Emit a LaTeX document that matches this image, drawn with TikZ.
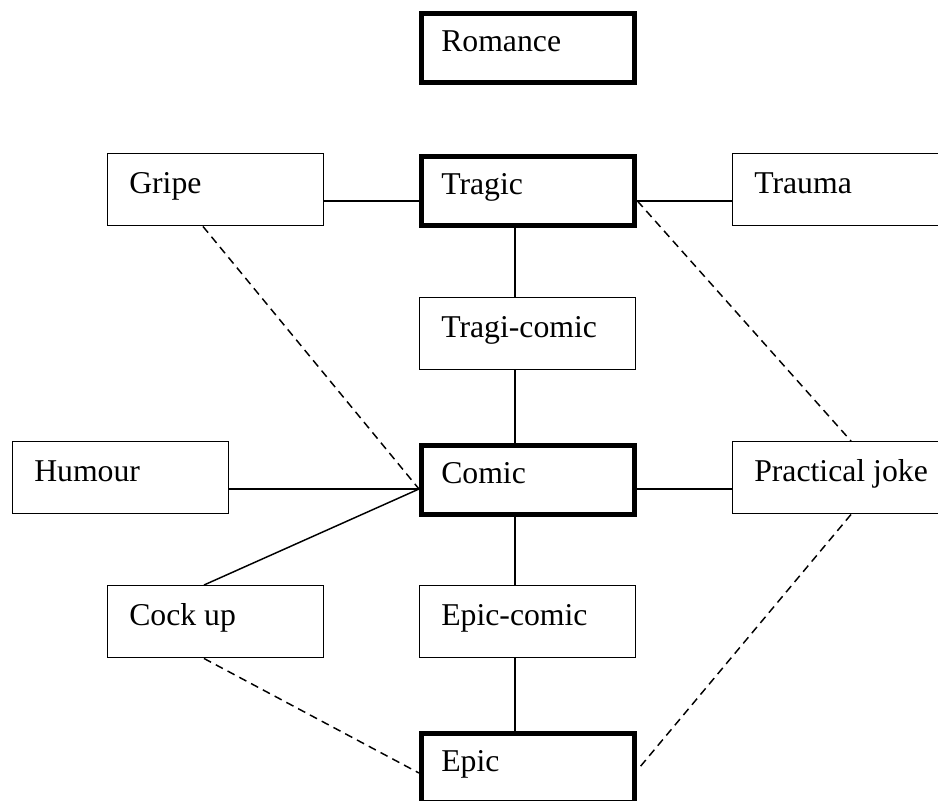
\documentclass[tikz,border=0pt]{standalone}
\usepackage{fontspec}
\setmainfont{Liberation Serif}
\begin{document}
\begin{tikzpicture}[x=0.75pt,y=-0.75pt,
  box/.style={draw, line width=1.1pt, inner sep=0pt, minimum width=162pt, minimum height=54pt, anchor=north west},
  thickbox/.style={box, line width=3.8pt, minimum width=160pt, minimum height=52pt},
  lbl/.style={anchor=base west, inner sep=0pt, font=\fontsize{23.8}{28}\selectfont},
  conn/.style={line width=1.1pt},
  dconn/.style={line width=1.1pt, dash pattern=on 6pt off 4pt}]
\useasboundingbox (0,0) rectangle (938,800);
% boxes
\node[thickbox] (romance) at (419,11) {};
\node[box] (gripe) at (107,153) {};
\node[thickbox] (tragic) at (419,154) {};
\node[box] (trauma) at (732,153) {};
\node[box] (tragicomic) at (419,297) {};
\node[box] (humour) at (12,441) {};
\node[thickbox] (comic) at (419,443) {};
\node[box] (practical) at (732,441) {};
\node[box] (cockup) at (107,585) {};
\node[box] (epiccomic) at (419,585) {};
\node[thickbox] (epic) at (419,731) {};
% labels
\node[lbl] at ([xshift=16.5pt,yshift=-30pt]romance.north west) {Romance};
\node[lbl] at ([xshift=16.5pt,yshift=-30pt]gripe.north west) {Gripe};
\node[lbl] at ([xshift=16.5pt,yshift=-30pt]tragic.north west) {Tragic};
\node[lbl] at ([xshift=16.5pt,yshift=-30pt]trauma.north west) {Trauma};
\node[lbl] at ([xshift=16.5pt,yshift=-30pt]tragicomic.north west) {Tragi-comic};
\node[lbl] at ([xshift=16.5pt,yshift=-30pt]humour.north west) {Humour};
\node[lbl] at ([xshift=16.5pt,yshift=-30pt]comic.north west) {Comic};
\node[lbl] at ([xshift=16.5pt,yshift=-30pt]practical.north west) {Practical joke};
\node[lbl] at ([xshift=16.5pt,yshift=-30pt]cockup.north west) {Cock up};
\node[lbl] at ([xshift=16.5pt,yshift=-30pt]epiccomic.north west) {Epic-comic};
\node[lbl] at ([xshift=16.5pt,yshift=-30pt]epic.north west) {Epic};
% solid connectors
\draw[conn] (gripe.east |- {(0,201)}) -- (tragic.west |- {(0,201)});
\draw[conn] (tragic.east |- {(0,201)}) -- (trauma.west |- {(0,201)});
\draw[conn] (tragic.south -| {(515,0)}) -- (tragicomic.north -| {(515,0)});
\draw[conn] (tragicomic.south -| {(515,0)}) -- (comic.north -| {(515,0)});
\draw[conn] (humour.east |- {(0,489)}) -- (comic.west |- {(0,489)});
\draw[conn] (comic.east |- {(0,489)}) -- (practical.west |- {(0,489)});
\draw[conn] (cockup.north -| {(204,0)}) -- (comic.west |- {(0,489)});
\draw[conn] (comic.south -| {(515,0)}) -- (epiccomic.north -| {(515,0)});
\draw[conn] (epiccomic.south -| {(515,0)}) -- (epic.north -| {(515,0)});
% dashed connectors
\draw[dconn] (gripe.south -| {(203,0)}) -- (comic.west |- {(0,489)});
\draw[dconn] (tragic.east |- {(0,201)}) -- (practical.north -| {(851,0)});
\draw[dconn] (practical.south -| {(851,0)}) -- (epic.east |- {(0,770)});
\draw[dconn] (cockup.south -| {(204,0)}) -- (epic.west |- {(0,773)});
\end{tikzpicture}
\end{document}
